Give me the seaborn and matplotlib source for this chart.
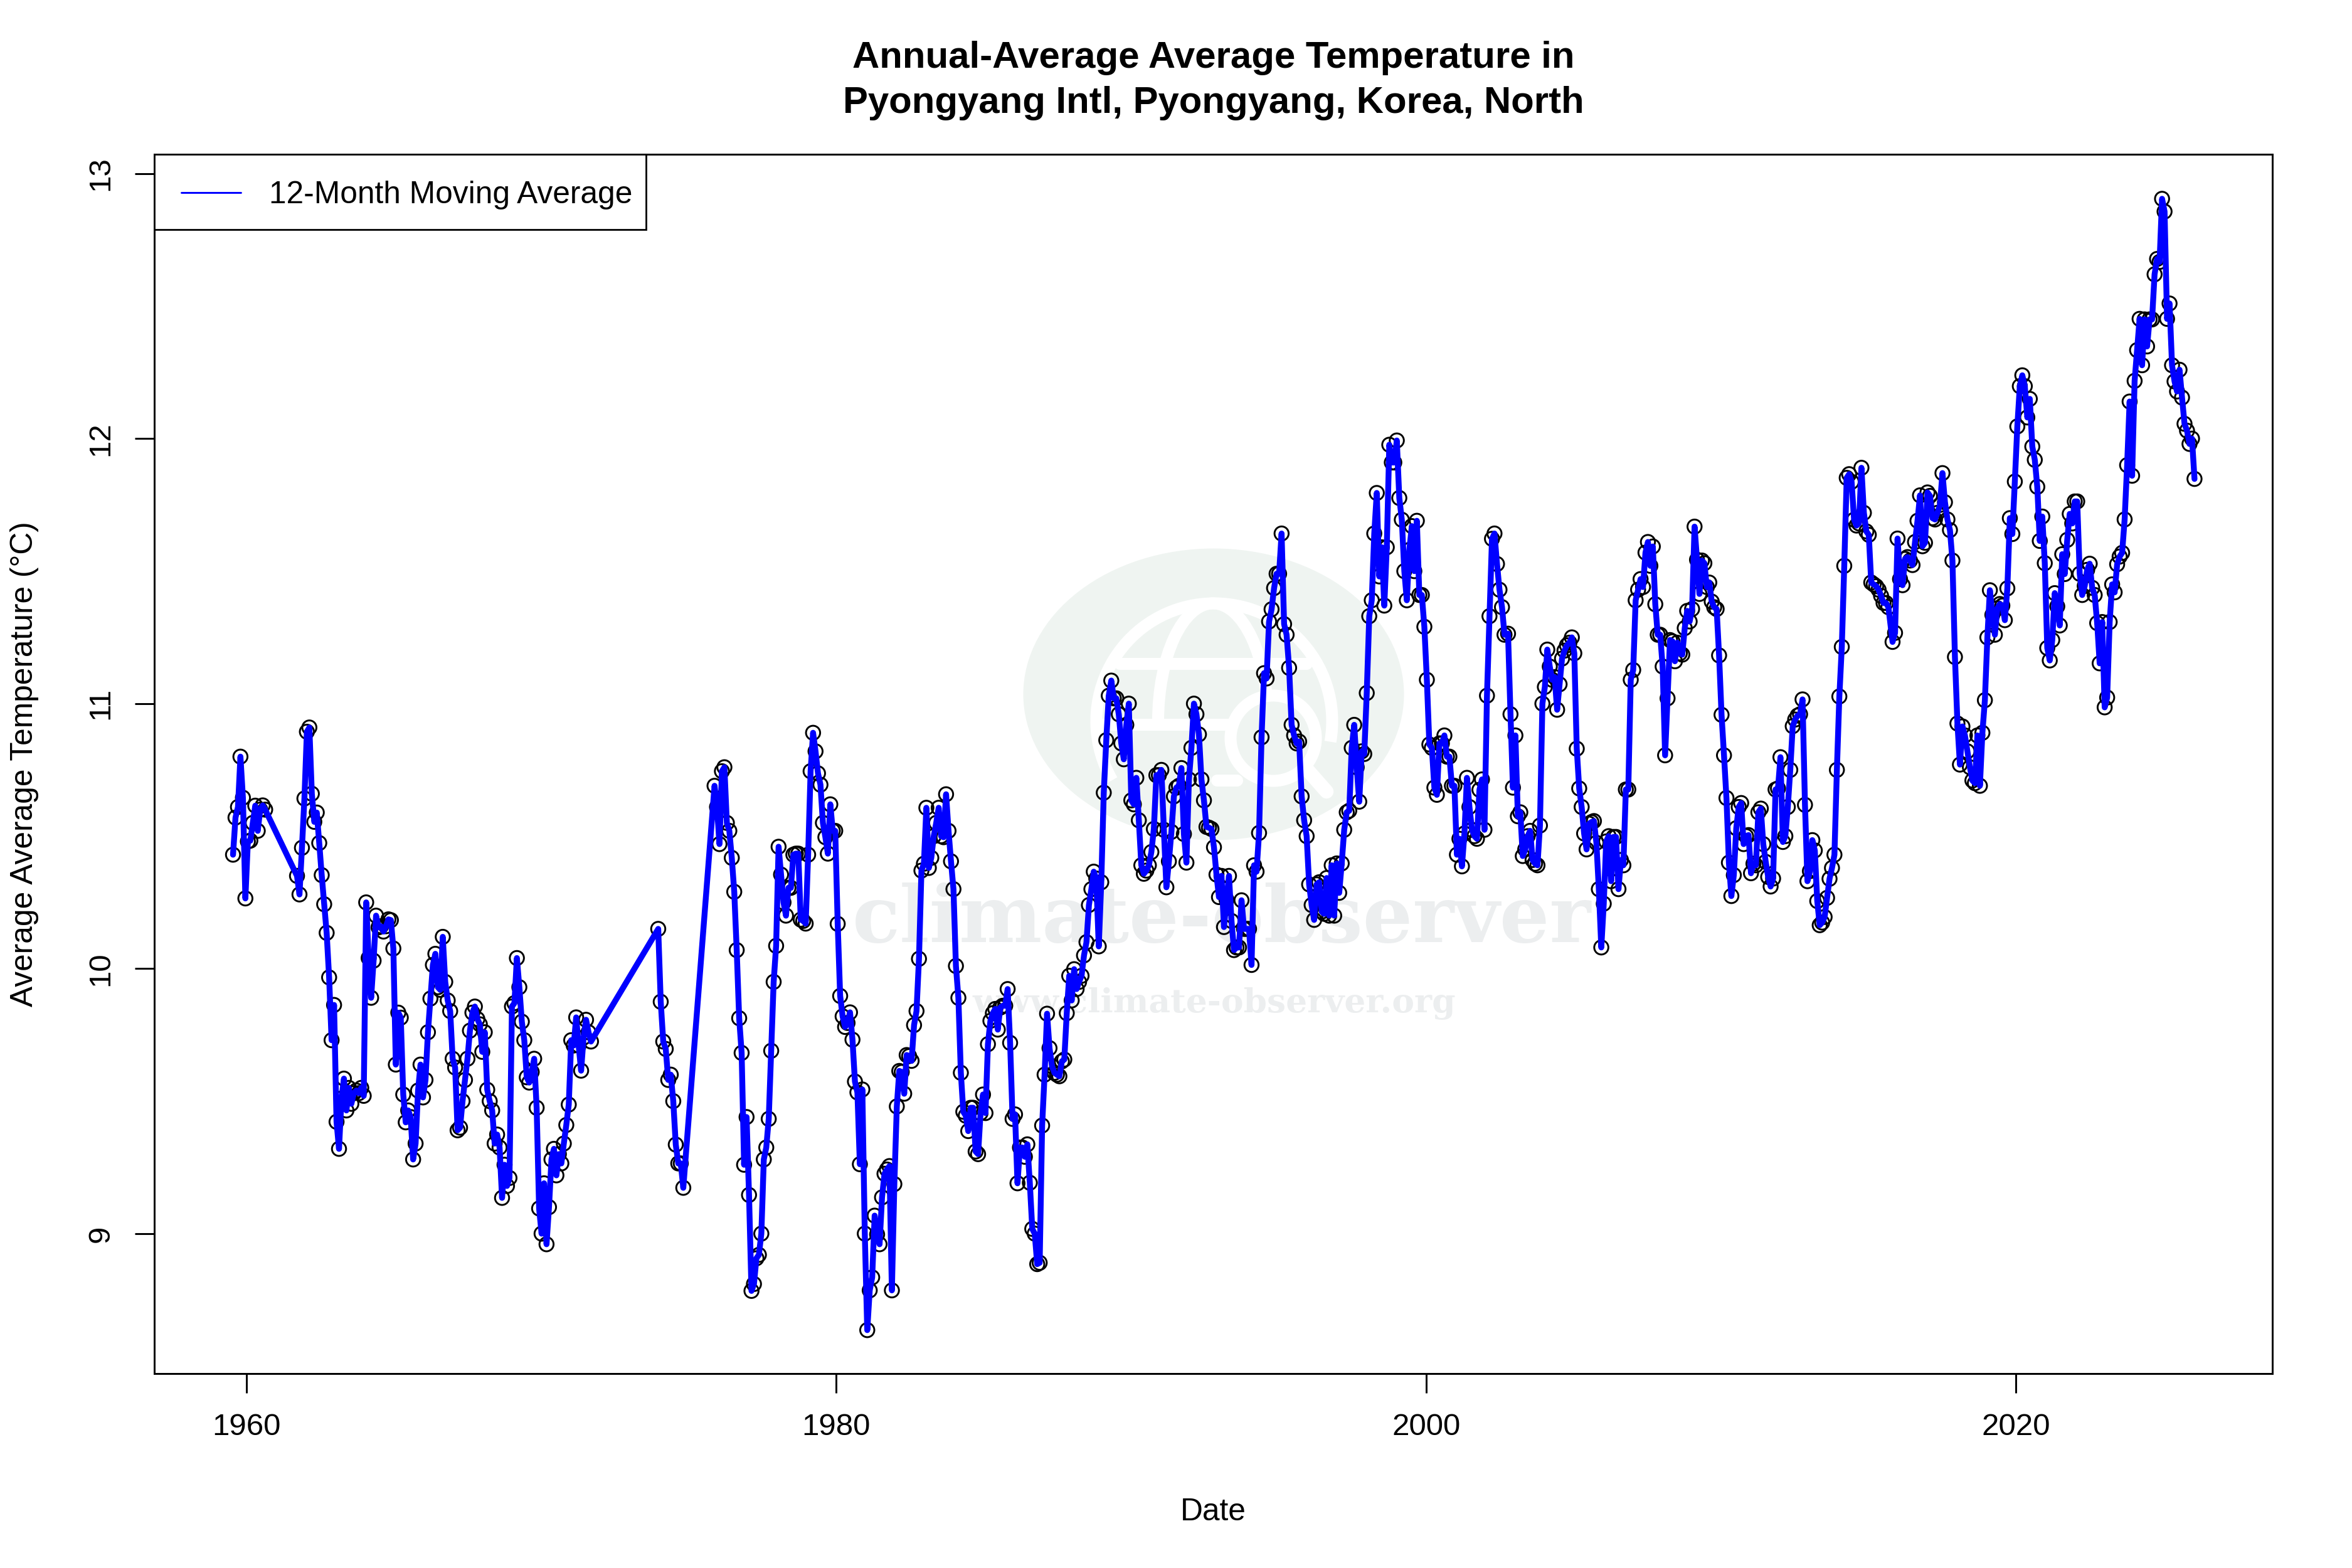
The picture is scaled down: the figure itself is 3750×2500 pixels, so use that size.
import numpy as np
import pandas as pd
import matplotlib
matplotlib.use("Agg")
import matplotlib.pyplot as plt
from matplotlib.patches import Ellipse, Arc, Circle, Rectangle
import seaborn as sns

# monthly values, one list per stretch of the record
vals_1959 = [10.43, 10.57, 10.61, 10.80, 10.645, 10.265, 10.48, 10.483, 10.55, 10.615, 10.52, 10.60, 10.616, 10.60]
vals_1961 = [10.35, 10.28, 10.456, 10.642, 10.894, 10.91, 10.66, 10.554, 10.589, 10.474, 10.353, 10.243, 10.135,
             9.967, 9.73, 9.863, 9.422, 9.32, 9.51, 9.585, 9.465, 9.55, 9.49, 9.53, 9.54, 9.53, 9.55, 9.52,
             10.25, 10.04, 9.89, 10.03, 10.2, 10.156, 10.16, 10.14, 10.16, 10.186, 10.183, 10.076, 9.638, 9.834,
             9.815, 9.525, 9.42, 9.465, 9.44, 9.28, 9.34, 9.54, 9.638, 9.514, 9.58, 9.76, 9.887, 10.014, 10.056,
             9.93, 9.92, 10.12, 9.95, 9.88, 9.84, 9.66, 9.627, 9.39, 9.40, 9.5, 9.58, 9.66, 9.766, 9.834, 9.857,
             9.81, 9.79, 9.686, 9.76, 9.543, 9.50, 9.465, 9.34, 9.374, 9.325, 9.135, 9.26, 9.18, 9.21, 9.857, 9.87,
             10.04, 9.93, 9.80, 9.73, 9.59, 9.57, 9.61, 9.66, 9.475, 9.095, 9.0, 9.19, 8.96, 9.10, 9.28, 9.32,
             9.22, 9.30, 9.265, 9.34, 9.41, 9.487, 9.73, 9.71, 9.816, 9.71, 9.615, 9.74, 9.807, 9.76, 9.725]
vals_1974 = [10.15, 9.875, 9.725, 9.697, 9.58, 9.60, 9.50, 9.336, 9.265, 9.265, 9.173]
vals_1976 = [10.69, 10.61, 10.47, 10.745, 10.76, 10.55, 10.52, 10.418, 10.29, 10.07, 9.813, 9.682, 9.26, 9.44, 9.146,
             8.784, 8.81, 8.907, 8.92, 9.0, 9.28, 9.325, 9.433, 9.69, 9.95, 10.086, 10.46, 10.355, 10.25, 10.20,
             10.305, 10.305, 10.43, 10.434, 10.434, 10.185, 10.18, 10.17, 10.43, 10.745, 10.89, 10.82, 10.737, 10.694,
             10.55, 10.496, 10.434, 10.62, 10.52, 10.52, 10.169, 9.897, 9.82, 9.78, 9.795, 9.835, 9.732, 9.574, 9.533,
             9.262, 9.544, 9.0, 8.636, 8.786, 8.835, 9.068, 8.997, 8.96, 9.137, 9.226, 9.242, 9.255, 8.786, 9.187, 9.48,
             9.614, 9.61, 9.528, 9.674, 9.67, 9.652, 9.787, 9.84, 10.037, 10.37, 10.396, 10.607, 10.38, 10.418, 10.5,
             10.55, 10.607, 10.5, 10.496, 10.658, 10.52, 10.405, 10.30, 10.01, 9.89, 9.607, 9.46, 9.445, 9.387, 9.475,
             9.475, 9.31, 9.30, 9.455, 9.525, 9.455, 9.715, 9.803, 9.832, 9.848, 9.77, 9.853, 9.86, 9.86, 9.923, 9.72,
             9.433, 9.45, 9.19, 9.325, 9.325, 9.29, 9.337, 9.192, 9.018, 9.0, 8.885, 8.89, 9.408, 9.6, 9.83, 9.70,
             9.632, 9.607, 9.6, 9.594, 9.65, 9.657, 9.832, 9.973, 9.88, 9.998, 9.923, 9.95, 9.973, 10.05, 10.10, 10.24, 10.3]
vals_1988 = [10.366, 10.34, 10.084, 10.326, 10.664, 10.862, 11.03, 11.087, 11.02, 11.02, 10.96, 10.85, 10.79, 10.92, 11.0,
             10.635, 10.62, 10.72, 10.56, 10.39, 10.358, 10.37, 10.39, 10.44, 10.527, 10.73, 10.73, 10.75, 10.524, 10.307,
             10.405, 10.516, 10.65, 10.683, 10.69, 10.757, 10.508, 10.40, 10.714, 10.833, 11.0, 10.96, 10.884, 10.714,
             10.635, 10.535, 10.532, 10.527, 10.458, 10.355, 10.27, 10.35, 10.157, 10.26, 10.35, 10.18, 10.07, 10.08,
             10.08, 10.258, 10.15, 10.15, 10.15, 10.014, 10.39, 10.366, 10.512, 10.873, 11.115, 11.095, 11.31, 11.356,
             11.436, 11.49, 11.49, 11.642, 11.30, 11.26, 11.135, 10.92, 10.88, 10.85, 10.857, 10.65, 10.56, 10.50, 10.318,
             10.24, 10.184, 10.318, 10.326, 10.215, 10.207, 10.342, 10.2, 10.39, 10.2, 10.397, 10.286, 10.397, 10.524,
             10.59, 10.596, 10.833, 10.92, 10.76, 10.63, 10.82, 10.81, 11.04, 11.33, 11.39, 11.642, 11.795, 11.48, 11.59,
             11.37, 11.59, 11.977, 11.91, 11.91, 11.993, 11.776, 11.694, 11.50, 11.39, 11.58, 11.67, 11.5, 11.69, 11.41,
             11.41, 11.29, 11.09, 10.846, 10.833, 10.683, 10.656, 10.85, 10.85, 10.88, 10.8, 10.8, 10.69, 10.69, 10.43,
             10.49, 10.386, 10.51, 10.72, 10.61, 10.524, 10.50, 10.49, 10.675, 10.714, 10.524, 11.03, 11.33, 11.622,
             11.642, 11.527, 11.43, 11.364, 11.26]
vals_2002 = [11.264, 10.96, 10.683, 10.88, 10.575, 10.59, 10.425, 10.45, 10.50, 10.52, 10.41, 10.396, 10.39, 10.54, 11.0,
             11.063, 11.204, 11.14, 11.09, 11.1, 10.977, 11.073, 11.17, 11.2, 11.22, 11.23, 11.25, 11.19, 10.83, 10.68,
             10.61, 10.51, 10.45, 10.547, 10.553, 10.557, 10.475, 10.3, 10.08, 10.245, 10.48, 10.5, 10.33, 10.497, 10.497,
             10.30, 10.41, 10.39, 10.676, 10.676, 11.09, 11.127, 11.39, 11.43, 11.47, 11.44, 11.57, 11.61, 11.52, 11.593,
             11.375, 11.26, 11.26, 11.14, 10.805, 11.02, 11.24, 11.235, 11.16, 11.23, 11.19, 11.185, 11.285, 11.35, 11.31,
             11.357, 11.668, 11.543, 11.414, 11.54, 11.53, 11.44, 11.457, 11.385, 11.364, 11.357, 11.182, 10.958, 10.805,
             10.644, 10.40, 10.274, 10.353, 10.53, 10.61, 10.625, 10.47, 10.5, 10.504, 10.36, 10.396, 10.39, 10.59, 10.604, 10.47,
             10.403, 10.346, 10.31, 10.34, 10.676, 10.68, 10.798, 10.478, 10.5, 10.61, 10.75, 10.915, 10.94, 10.955, 10.96, 11.016,
             10.618, 10.33, 10.368, 10.485, 10.446, 10.255, 10.164, 10.174, 10.195, 10.267, 10.339, 10.38, 10.43, 10.75,
             11.027, 11.214, 11.52, 11.852, 11.866, 11.837, 11.694, 11.672, 11.68, 11.89, 11.72, 11.65, 11.637, 11.457,
             11.45, 11.443, 11.43, 11.407, 11.38, 11.38, 11.364]
vals_2015 = [11.233, 11.267, 11.623, 11.47, 11.447, 11.546, 11.553, 11.54, 11.523, 11.61, 11.69, 11.786, 11.594, 11.607,
             11.797, 11.784, 11.70, 11.695, 11.72, 11.75, 11.87, 11.76, 11.695, 11.655, 11.54, 11.176, 10.925, 10.77, 10.914,
             10.88, 10.82, 10.76, 10.71, 10.70, 10.88, 10.69, 10.89, 11.013, 11.25, 11.428, 11.335, 11.26, 11.36, 11.376,
             11.37, 11.315, 11.435, 11.70, 11.64, 11.838, 12.046, 12.198, 12.239, 12.198, 12.08, 12.15, 11.97, 11.92, 11.818,
             11.614, 11.706, 11.53, 11.21, 11.163, 11.24, 11.417, 11.367, 11.295, 11.564, 11.489, 11.618, 11.716, 11.68,
             11.763, 11.763, 11.49, 11.41, 11.444, 11.505, 11.528, 11.437, 11.41, 11.304, 11.152, 11.308, 10.986, 11.023,
             11.308, 11.45, 11.42, 11.526, 11.555, 11.569, 11.695, 11.9, 12.14, 11.86, 12.218, 12.334, 12.452, 12.277, 12.45,
             12.348, 12.45, 12.45, 12.62, 12.678, 12.667, 12.905, 12.857, 12.452, 12.51, 12.277, 12.216, 12.178, 12.26,
             12.155, 12.056, 12.03, 11.98, 12.0, 11.848]

stretches = [(1959.54, 1960.63, vals_1959), (1961.71, 1971.68, vals_1961), (1973.96, 1974.81, vals_1974),
             (1975.87, 1988.65, vals_1976), (1988.73, 2002.66, vals_1988), (2002.78, 2015.68, vals_2002),
             (2015.82, 2026.06, vals_2015)]

rows = []
for start, end, vals in stretches:
    rows.append(pd.DataFrame({"date": np.linspace(start, end, len(vals)), "temp": vals}))
df = pd.concat(rows, ignore_index=True)

sns.set_style("white")
plt.rcParams["font.family"] = ["Liberation Sans", "DejaVu Sans"]
plt.rcParams["text.color"] = "black"
plt.rcParams["axes.labelcolor"] = "black"
plt.rcParams["xtick.color"] = "black"
plt.rcParams["ytick.color"] = "black"

fig = plt.figure(figsize=(15, 10), dpi=250)

# watermark layer in pixel coordinates, under the plot
bg = fig.add_axes([0, 0, 1, 1], zorder=0)
bg.set_xlim(0, 3750)
bg.set_ylim(2500, 0)
bg.axis("off")
green = "#eff4f1"
bg.add_patch(Ellipse((1935, 1107), 607, 465, color=green, lw=0))
bg.add_patch(Arc((1936, 1150), 376, 376, theta1=150, theta2=370, ec="white", lw=5.5))
bg.add_patch(Arc((1934, 1150), 175, 376, theta1=180, theta2=360, ec="white", lw=5.5))
bg.plot([1785, 2083], [1058, 1058], color="white", lw=5.5)
bg.plot([1748, 1963], [1155, 1155], color="white", lw=5.5)
bg.add_patch(Circle((2030, 1177), 68, fc=green, ec="white", lw=5.5))
bg.plot([2085, 2115], [1228, 1262], color="white", lw=6.5, solid_capstyle="round")
bg.plot([1940, 1972], [1244, 1244], color="white", lw=5.5, solid_capstyle="round")
bg.text(1948, 1467, "climate-observer", family="DejaVu Serif", weight="bold", fontsize=36,
        color="#eceeef", ha="center", va="center")
bg.text(1936, 1600, "www.climate-observer.org", family="DejaVu Serif", weight="bold", fontsize=15.4,
        color="#eceeef", ha="center", va="center")

ax = fig.add_axes([246 / 3750, 1 - 2190 / 2500, (3623 - 246) / 3750, (2190 - 246) / 2500], zorder=1)
ax.patch.set_alpha(0)

sns.scatterplot(data=df, x="date", y="temp", ax=ax, s=42, facecolor="none", edgecolor="black",
                linewidth=0.85, zorder=2, legend=False)
sns.lineplot(data=df, x="date", y="temp", ax=ax, color="#0000ff", linewidth=2.7, zorder=3,
             estimator=None, sort=False, legend=False, solid_capstyle="round", solid_joinstyle="round")

ax.set_xlim(1956.87, 2028.7)
ax.set_ylim(8.472, 13.073)
ax.set_xticks([1960, 1980, 2000, 2020])
ax.set_yticks([9, 10, 11, 12, 13])
ax.tick_params(axis="both", length=9, width=0.85, color="black", labelsize=14.2, pad=9,
               bottom=True, left=True)
plt.setp(ax.get_yticklabels(), rotation=90, va="center")
for s in ax.spines.values():
    s.set_visible(True)
    s.set_color("black")
    s.set_linewidth(0.85)

ax.set_xlabel("Date", fontsize=14.3, labelpad=26)
ax.set_ylabel("Average Average Temperature (°C)", fontsize=14.3, labelpad=22)

fig.text((246 + 3623) / 2 / 3750, 1 - 93 / 2500, "Annual-Average Average Temperature in", fontsize=17.25,
         weight="bold", ha="center", va="center")
fig.text((246 + 3623) / 2 / 3750, 1 - 164 / 2500, "Pyongyang Intl, Pyongyang, Korea, North", fontsize=17.25,
         weight="bold", ha="center", va="center")

# legend box sits flush in the top left corner, frame drawn by hand to get R's proportions
ax.add_patch(Rectangle((0, 1), (1030 - 246) / 3377, -120 / 1944, transform=ax.transAxes, fc="white",
                       ec="black", lw=0.8, zorder=4))
handle = plt.Line2D([], [], color="#0000ff", lw=0.85)
leg = ax.legend([handle], ["12-Month Moving Average"], loc="upper left", bbox_to_anchor=(0, 1 + 1 / 1944),
                borderaxespad=0, fontsize=14.3, frameon=False, handlelength=1.9, handletextpad=0.92,
                borderpad=0.87)
leg.set_zorder(5)

fig.savefig("out.png", dpi=250)
